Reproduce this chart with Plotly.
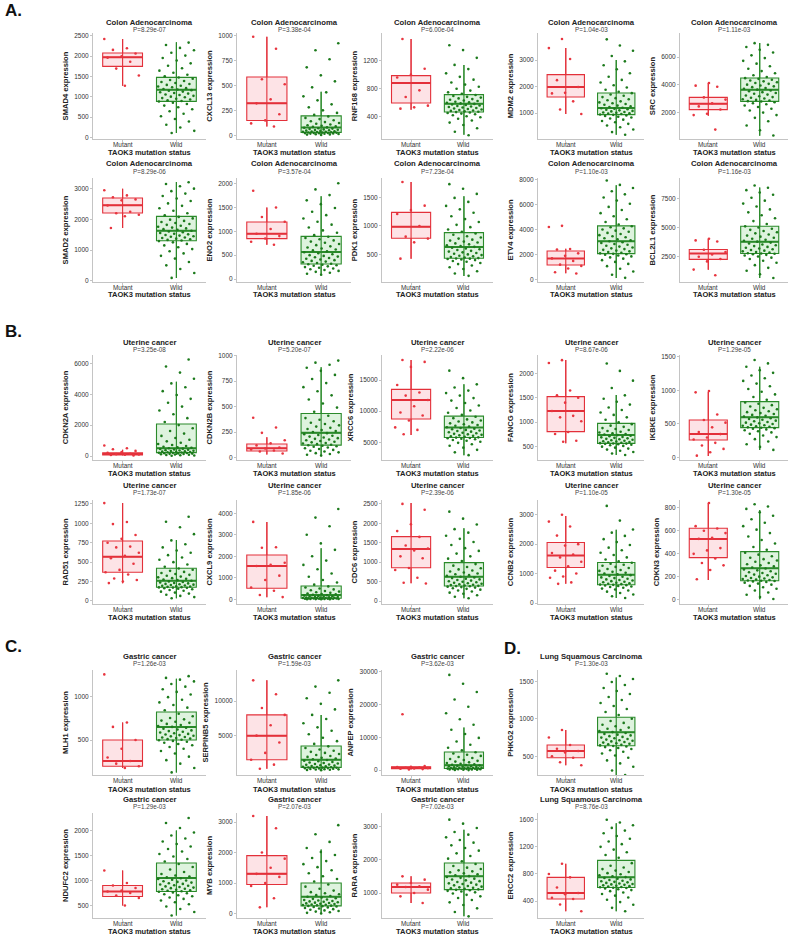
import plotly.graph_objects as go

W, H = 794, 937

# ---------------- data ----------------
GENES = ["SMAD4", "CXCL13", "RNF168", "MDM2", "SRC",
         "SMAD2", "ENO2", "PDK1", "ETV4", "BCL2L1",
         "CDKN2A", "CDKN2B", "XRCC6", "FANCG", "IKBKE",
         "RAD51", "CXCL9", "CDC6", "CCNB2", "CDKN3",
         "MLH1", "SERPINB5", "ANPEP",
         "NDUFC2", "MYB", "RARA",
         "PHKG2", "ERCC2"]

CANCERS = (["Colon Adenocarcinoma"] * 10 + ["Uterine cancer"] * 10 +
           ["Gastric cancer"] * 6 + ["Lung Squamous Carcinoma"] * 2)

PVALS = ["8.29e-07", "3.38e-04", "6.00e-04", "1.04e-03", "1.11e-03",
         "8.29e-06", "3.57e-04", "7.23e-04", "1.10e-03", "1.16e-03",
         "3.25e-08", "5.20e-07", "2.22e-06", "8.67e-06", "1.29e-05",
         "1.73e-07", "1.85e-06", "2.39e-06", "1.10e-05", "1.30e-05",
         "1.26e-03", "1.59e-03", "3.62e-03",
         "1.29e-03", "2.07e-03", "7.02e-03",
         "1.30e-03", "8.76e-03"]

GROUPS = ["Mutant", "Wild"]

YRANGES = [[-41, 2566], [-36, 1023], [87, 1593], [19, 4019], [72, 7735],
           [-43, 3348], [-63, 2119], [23, 1837], [-180, 8100], [337, 9240],
           [-259, 6540], [-23, 1005], [2170, 19010], [227, 2375], [-35, 1525],
           [-39, 1300], [-220, 4620], [-77, 2600], [-34, 3500], [-35, 867],
           [100, 1300], [-700, 14500], [-1500, 30500],
           [250, 2350], [-150, 3300], [250, 3400],
           [250, 1650], [150, 1700]]

YTICKS = [[0, 500, 1000, 1500, 2000, 2500], [0, 250, 500, 750, 1000], [400, 800, 1200],
          [1000, 2000, 3000], [2000, 4000, 6000],
          [0, 1000, 2000, 3000], [0, 500, 1000, 1500, 2000], [500, 1000, 1500],
          [0, 2000, 4000, 6000, 8000], [2500, 5000, 7500],
          [0, 2000, 4000, 6000], [0, 250, 500, 750, 1000], [5000, 10000, 15000],
          [500, 1000, 1500, 2000], [0, 500, 1000, 1500],
          [0, 250, 500, 750, 1000, 1250], [0, 1000, 2000, 3000, 4000],
          [0, 500, 1000, 1500, 2000, 2500], [0, 1000, 2000, 3000], [0, 200, 400, 600, 800],
          [500, 1000], [5000, 10000], [0, 10000, 20000, 30000],
          [500, 1000, 1500, 2000], [0, 1000, 2000, 3000], [1000, 2000, 3000],
          [500, 1000, 1500], [400, 800, 1200, 1600]]

# box statistics: [lower whisker, q1, median, q3, upper whisker]
MUT_BOX = [[1270, 1746, 1967, 2074, 2418], [89, 149, 320, 584, 985], [504, 598, 883, 987, 1508],
           [962, 1604, 1981, 2447, 3453], [1759, 2193, 2627, 3084, 4120],
           [1717, 2207, 2457, 2696, 3000], [720, 846, 951, 1196, 1500], [430, 785, 988, 1238, 1767],
           [520, 1169, 1688, 2286, 2468], [1376, 2275, 2781, 3118, 4045],
           [30, 70, 130, 210, 400], [30, 65, 91, 133, 200], [6176, 8743, 11791, 13503, 18208],
           [568, 807, 1230, 1523, 2273], [25, 262, 351, 559, 980],
           [228, 369, 570, 772, 1261], [93, 512, 1550, 2062, 3600], [456, 858, 1340, 1657, 2525],
           [654, 1207, 1614, 2054, 2959], [173, 367, 529, 622, 841],
           [180, 200, 260, 500, 700], [200, 1500, 5000, 8000, 13000], [200, 400, 700, 1000, 1200],
           [500, 680, 780, 900, 1200], [200, 950, 1300, 1900, 3200], [700, 1000, 1180, 1300, 1500],
           [380, 480, 570, 650, 850], [250, 430, 520, 750, 950]]

WILD_BOX = [[107, 885, 1172, 1475, 2336], [7, 30, 79, 195, 436], [149, 471, 589, 717, 1138],
            [182, 937, 1189, 1755, 3000], [313, 2795, 3639, 4482, 7012],
            [87, 1304, 1630, 2098, 3217], [91, 315, 566, 895, 1734], [127, 436, 634, 884, 1517],
            [130, 2078, 3065, 4286, 7532], [674, 2781, 3792, 5112, 8427],
            [65, 216, 496, 2071, 4811], [26, 123, 243, 432, 886], [2940, 5775, 7380, 9200, 14317],
            [329, 568, 739, 977, 1557], [114, 446, 599, 832, 1351],
            [35, 176, 261, 421, 785], [0, 46, 200, 619, 2372], [70, 387, 626, 987, 1874],
            [170, 620, 959, 1376, 2485], [6, 167, 275, 419, 780],
            [130, 500, 650, 820, 1200], [0, 400, 1500, 3500, 8000], [0, 500, 1500, 5500, 13000],
            [300, 780, 1050, 1350, 2000], [0, 250, 550, 1000, 2100], [300, 1100, 1500, 1900, 2900],
            [250, 640, 820, 1020, 1550], [250, 600, 750, 1000, 1550]]

MUT_POINTS = [
    [2420, 2190, 2150, 2060, 1990, 1960, 1860, 1690, 1520, 1270],
    [985, 865, 561, 511, 360, 320, 211, 150, 120, 89],
    [1508, 1086, 1001, 960, 778, 683, 561, 537, 518],
    [3790, 3450, 3040, 2240, 1980, 1760, 1740, 1440, 1130, 960],
    [4120, 3930, 3850, 3080, 2920, 2650, 2430, 2200, 1900, 1800, 750],
    [2950, 2780, 2720, 2650, 2620, 2450, 2250, 2200, 2150, 2100, 1720],
    [1850, 1500, 1300, 1200, 1050, 950, 900, 850, 780, 720],
    [1767, 1355, 1280, 1209, 1000, 814, 780, 715, 430],
    [4290, 4200, 2450, 2400, 2100, 1900, 1700, 1500, 1200, 1100, 900, 600, 500],
    [4045, 3900, 3800, 3100, 2900, 2700, 2500, 2300, 2100, 1400, 920],
    [680, 500, 440, 330, 250, 200, 150, 120, 100, 80, 60, 40],
    [390, 295, 243, 170, 140, 120, 100, 90, 80, 70, 60, 40],
    [18200, 17900, 17100, 14200, 13000, 12500, 11800, 10800, 9800, 9300, 8500, 7400, 7000, 6300],
    [2270, 2210, 1650, 1550, 1500, 1400, 1230, 1130, 1100, 1020, 800, 760, 620, 600],
    [990, 970, 640, 560, 520, 450, 380, 350, 300, 270, 220, 180, 130, 80, 30],
    [1260, 1016, 990, 850, 800, 750, 700, 690, 620, 580, 550, 480, 400, 370, 340, 290, 270, 250, 230],
    [3600, 2420, 2400, 1700, 1600, 1550, 1100, 900, 550, 400, 200, 100],
    [2500, 2350, 1977, 1800, 1650, 1430, 1350, 1300, 1150, 1100, 850, 800, 600, 470, 450],
    [3000, 2766, 2600, 2291, 2000, 1950, 1700, 1650, 1550, 1400, 1250, 1100, 1000, 900, 860, 700, 650],
    [841, 640, 620, 600, 580, 540, 530, 450, 430, 400, 360, 320, 300, 260, 180],
    [1250, 700, 650, 500, 400, 300, 260, 230, 200, 180],
    [13000, 11000, 9000, 8000, 6500, 5000, 4000, 2500, 1500, 800, 200],
    [17000, 1200, 1000, 900, 800, 700, 600, 500, 400, 300, 200],
    [1200, 950, 900, 850, 800, 780, 750, 700, 650, 500],
    [3200, 2800, 2000, 1800, 1500, 1300, 1200, 1000, 900, 500, 200],
    [1500, 1400, 1300, 1250, 1200, 1180, 1100, 1000, 900, 700],
    [850, 750, 650, 600, 570, 550, 500, 480, 420, 380],
    [950, 800, 750, 600, 520, 500, 450, 430, 350, 250],
]

WILD_POINTS = [
    [107, 160, 240, 310, 390, 450, 520, 580, 640, 690, 740, 780, 820, 850, 880,
     895, 910, 930, 950, 965, 985, 1000, 1020, 1040, 1055, 1075, 1090, 1110, 1125, 1145,
     1160, 1175, 1190, 1210, 1230, 1250, 1270, 1290, 1310, 1335, 1360, 1385, 1410, 1440, 1470,
     1500, 1540, 1590, 1640, 1700, 1760, 1820, 1890, 1950, 2010, 2080, 2140, 2200, 2270, 2330],
    [5, 8, 10, 12, 14, 16, 18, 20, 22, 23, 24, 25, 26, 28, 29,
     31, 33, 35, 37, 39, 42, 45, 48, 51, 54, 57, 60, 64, 68, 72,
     76, 80, 85, 90, 96, 102, 109, 116, 124, 133, 142, 152, 163, 175, 190,
     205, 225, 250, 280, 310, 350, 390, 430, 480, 540, 600, 680, 760, 850, 920],
    [140, 190, 240, 285, 320, 350, 375, 395, 410, 425, 438, 448, 456, 463, 469,
     474, 480, 486, 492, 499, 506, 513, 520, 527, 534, 541, 548, 555, 562, 570,
     578, 586, 593, 601, 609, 617, 626, 635, 644, 654, 664, 675, 686, 698, 712,
     730, 750, 775, 800, 830, 860, 890, 930, 970, 1020, 1080, 1140, 1240, 1350, 1420],
    [180, 280, 380, 460, 530, 590, 650, 700, 750, 790, 830, 860, 890, 910, 930,
     945, 960, 975, 990, 1005, 1020, 1040, 1060, 1080, 1100, 1120, 1140, 1160, 1180, 1200,
     1225, 1250, 1280, 1310, 1340, 1370, 1400, 1440, 1480, 1520, 1560, 1600, 1650, 1700, 1750,
     1800, 1880, 1960, 2050, 2150, 2250, 2370, 2500, 2650, 2800, 2950, 3150, 3350, 3550, 3780],
    [320, 700, 1050, 1350, 1600, 1800, 1980, 2130, 2260, 2380, 2490, 2580, 2660, 2730, 2780,
     2810, 2850, 2900, 2950, 3000, 3050, 3100, 3160, 3220, 3280, 3340, 3400, 3460, 3520, 3580,
     3640, 3700, 3760, 3820, 3880, 3940, 4000, 4060, 4120, 4180, 4240, 4300, 4360, 4420, 4470,
     4550, 4680, 4820, 4980, 5150, 5330, 5520, 5720, 5920, 6120, 6320, 6520, 6720, 6880, 7000],
    [90, 250, 380, 500, 610, 720, 810, 890, 960, 1030, 1090, 1150, 1200, 1250, 1290,
     1310, 1330, 1350, 1370, 1390, 1410, 1430, 1450, 1470, 1490, 1510, 1530, 1555, 1580, 1605,
     1630, 1655, 1680, 1705, 1730, 1760, 1790, 1820, 1850, 1880, 1915, 1950, 1990, 2030, 2080,
     2130, 2200, 2280, 2360, 2440, 2520, 2600, 2680, 2760, 2840, 2920, 3000, 3080, 3150, 3210],
    [90, 110, 130, 150, 170, 190, 205, 220, 235, 250, 265, 278, 290, 300, 310,
     320, 335, 350, 365, 380, 395, 410, 425, 440, 455, 470, 485, 500, 520, 540,
     560, 580, 600, 620, 640, 660, 685, 710, 735, 760, 785, 810, 835, 860, 885,
     920, 970, 1020, 1080, 1140, 1200, 1270, 1340, 1410, 1490, 1570, 1650, 1760, 1880, 2010],
    [130, 170, 210, 250, 280, 310, 335, 355, 375, 390, 405, 415, 423, 430, 434,
     440, 450, 460, 470, 480, 492, 504, 516, 528, 540, 553, 566, 580, 594, 608,
     622, 636, 650, 665, 680, 696, 712, 728, 745, 762, 780, 800, 822, 846, 870,
     900, 940, 980, 1020, 1070, 1120, 1170, 1230, 1290, 1350, 1420, 1490, 1560, 1650, 1730],
    [150, 400, 650, 880, 1080, 1260, 1420, 1560, 1680, 1780, 1860, 1930, 1990, 2030, 2060,
     2100, 2150, 2200, 2260, 2320, 2380, 2440, 2500, 2570, 2640, 2710, 2780, 2850, 2920, 2990,
     3060, 3140, 3220, 3300, 3380, 3460, 3550, 3640, 3730, 3820, 3910, 4000, 4090, 4180, 4260,
     4400, 4600, 4820, 5050, 5300, 5550, 5800, 6050, 6300, 6550, 6800, 7050, 7300, 7550, 7900],
    [680, 1000, 1300, 1550, 1780, 1980, 2150, 2300, 2420, 2520, 2600, 2660, 2710, 2750, 2775,
     2800, 2850, 2900, 2960, 3020, 3080, 3140, 3200, 3270, 3340, 3410, 3480, 3550, 3630, 3710,
     3790, 3870, 3950, 4040, 4130, 4220, 4310, 4400, 4500, 4600, 4700, 4800, 4900, 5000, 5100,
     5300, 5550, 5800, 6050, 6300, 6550, 6800, 7050, 7300, 7550, 7800, 8000, 8200, 8400, 8600],
    [20, 35, 50, 65, 80, 95, 110, 125, 140, 155, 168, 180, 192, 203, 213,
     225, 240, 255, 270, 285, 300, 320, 340, 360, 380, 400, 425, 450, 475, 500,
     530, 560, 600, 650, 710, 780, 860, 950, 1050, 1170, 1300, 1450, 1620, 1800, 2000,
     2200, 2450, 2700, 2950, 3200, 3450, 3700, 3950, 4200, 4450, 4700, 5000, 5400, 5800, 6250],
    [20, 28, 36, 44, 52, 60, 68, 76, 84, 92, 99, 106, 112, 117, 121,
     126, 132, 138, 144, 150, 156, 163, 170, 177, 184, 191, 198, 206, 214, 222,
     230, 240, 250, 260, 270, 281, 292, 304, 316, 329, 342, 356, 371, 387, 410,
     450, 490, 530, 570, 610, 650, 690, 730, 770, 810, 850, 880, 910, 930, 950],
    [2950, 3400, 3800, 4150, 4450, 4700, 4920, 5100, 5250, 5380, 5490, 5580, 5650, 5710, 5760,
     5800, 5880, 5960, 6040, 6120, 6200, 6280, 6360, 6450, 6540, 6630, 6720, 6810, 6900, 7000,
     7100, 7200, 7300, 7420, 7540, 7660, 7780, 7900, 8050, 8200, 8350, 8500, 8680, 8880, 9100,
     9400, 9750, 10100, 10500, 10900, 11300, 11700, 12100, 12500, 12900, 13300, 13800, 14300, 15300, 16500],
    [330, 360, 390, 415, 440, 460, 480, 500, 515, 528, 540, 550, 557, 562, 566,
     572, 580, 588, 596, 604, 612, 620, 630, 640, 650, 660, 670, 680, 690, 700,
     712, 724, 736, 748, 760, 775, 790, 805, 820, 840, 860, 880, 905, 930, 960,
     1000, 1050, 1100, 1150, 1200, 1250, 1300, 1360, 1420, 1480, 1550, 1700, 1850, 2050, 2200],
    [115, 160, 200, 240, 275, 305, 330, 355, 375, 393, 408, 420, 430, 438, 444,
     450, 458, 466, 474, 482, 490, 500, 510, 520, 530, 540, 550, 562, 574, 586,
     598, 610, 622, 635, 648, 662, 676, 690, 705, 720, 740, 760, 780, 800, 820,
     860, 900, 940, 980, 1020, 1060, 1100, 1140, 1180, 1220, 1260, 1300, 1350, 1400, 1450],
    [35, 50, 65, 80, 95, 108, 120, 131, 141, 150, 158, 164, 169, 172, 175,
     178, 182, 186, 190, 195, 200, 205, 210, 215, 220, 226, 232, 238, 245, 252,
     260, 268, 276, 285, 294, 304, 314, 325, 336, 348, 360, 374, 388, 402, 418,
     440, 470, 500, 530, 560, 590, 620, 650, 690, 730, 780, 860, 950, 1020, 1085],
    [0, 3, 6, 9, 12, 15, 18, 21, 24, 27, 30, 33, 37, 41, 44,
     48, 52, 56, 60, 65, 70, 76, 82, 90, 98, 107, 117, 128, 140, 155,
     170, 188, 206, 226, 248, 272, 298, 326, 356, 388, 422, 460, 500, 545, 600,
     680, 780, 900, 1050, 1200, 1400, 1600, 1800, 2000, 2300, 2600, 3000, 3400, 3800, 4200],
    [70, 110, 150, 185, 215, 245, 270, 293, 313, 330, 345, 358, 369, 378, 384,
     390, 400, 410, 420, 432, 444, 456, 468, 482, 496, 510, 525, 540, 556, 572,
     590, 608, 626, 646, 666, 688, 710, 734, 760, 786, 814, 844, 876, 910, 950,
     1030, 1090, 1150, 1220, 1290, 1360, 1440, 1520, 1600, 1680, 1760, 1850, 1970, 2120, 2300],
    [170, 230, 290, 340, 385, 425, 460, 490, 518, 542, 563, 580, 595, 607, 616,
     625, 640, 655, 670, 688, 706, 724, 742, 762, 782, 802, 824, 846, 870, 894,
     920, 946, 972, 1000, 1028, 1058, 1090, 1122, 1156, 1190, 1226, 1264, 1300, 1336, 1370,
     1420, 1480, 1550, 1630, 1710, 1790, 1880, 1970, 2070, 2170, 2280, 2390, 2500, 2800, 3300],
    [8, 25, 45, 65, 82, 97, 110, 122, 133, 142, 150, 156, 161, 164, 166,
     169, 173, 177, 181, 186, 191, 196, 202, 208, 214, 220, 227, 234, 241, 249,
     257, 265, 273, 282, 291, 300, 310, 320, 331, 342, 354, 366, 379, 393, 410,
     435, 460, 490, 520, 550, 580, 610, 640, 670, 700, 730, 760, 790, 810, 830],
    [130, 180, 230, 270, 310, 345, 375, 400, 420, 440, 455, 468, 480, 490, 497,
     503, 510, 516, 522, 528, 535, 542, 549, 556, 563, 570, 578, 586, 594, 602,
     610, 620, 630, 640, 650, 660, 672, 684, 696, 708, 722, 736, 752, 772, 800,
     840, 870, 900, 930, 960, 990, 1020, 1050, 1080, 1110, 1140, 1170, 1190, 1210, 1230],
    [0, 30, 60, 90, 120, 150, 180, 210, 240, 270, 300, 325, 350, 370, 390,
     420, 460, 500, 550, 600, 650, 710, 770, 830, 900, 970, 1040, 1120, 1200, 1290,
     1380, 1480, 1580, 1690, 1800, 1920, 2050, 2200, 2350, 2500, 2650, 2820, 3000, 3200, 3450,
     3800, 4200, 4700, 5200, 5700, 6200, 6800, 7400, 8000, 8800, 9600, 10400, 11200, 12100, 13000],
    [0, 40, 80, 120, 160, 200, 240, 280, 320, 360, 395, 425, 450, 470, 490,
     520, 560, 600, 640, 690, 740, 800, 860, 930, 1000, 1080, 1170, 1270, 1380, 1500,
     1630, 1780, 1950, 2150, 2350, 2580, 2820, 3080, 3360, 3660, 3980, 4320, 4680, 5060, 5450,
     6000, 6800, 7700, 8700, 9800, 11000, 12300, 13800, 15500, 17300, 19300, 21500, 23800, 26300, 29000],
    [300, 370, 430, 480, 525, 565, 600, 632, 660, 685, 705, 725, 745, 762, 775,
     785, 795, 805, 815, 825, 836, 847, 858, 870, 882, 894, 906, 919, 932, 945,
     958, 972, 986, 1000, 1015, 1030, 1046, 1062, 1080, 1100, 1130, 1170, 1220, 1270, 1330,
     1380, 1430, 1480, 1530, 1580, 1630, 1680, 1730, 1780, 1840, 1900, 1960, 2050, 2150, 2250],
    [0, 20, 40, 60, 80, 100, 120, 140, 160, 180, 198, 214, 228, 240, 248,
     255, 265, 275, 285, 296, 307, 318, 330, 342, 355, 368, 382, 396, 411, 426,
     442, 460, 480, 500, 522, 546, 572, 600, 630, 662, 700, 750, 810, 880, 950,
     1050, 1130, 1220, 1320, 1420, 1520, 1620, 1720, 1820, 1920, 2020, 2150, 2350, 2600, 2900],
    [300, 430, 540, 640, 720, 790, 850, 900, 945, 985, 1020, 1045, 1065, 1082, 1095,
     1110, 1125, 1140, 1155, 1170, 1190, 1210, 1230, 1250, 1270, 1290, 1310, 1330, 1355, 1380,
     1405, 1430, 1455, 1480, 1505, 1530, 1560, 1590, 1620, 1650, 1680, 1720, 1760, 1810, 1870,
     1950, 2030, 2110, 2190, 2270, 2350, 2430, 2510, 2590, 2670, 2750, 2830, 2950, 3080, 3200],
    [250, 310, 360, 405, 445, 480, 510, 537, 560, 580, 597, 611, 622, 631, 637,
     645, 652, 659, 666, 674, 682, 690, 698, 706, 714, 722, 731, 740, 749, 758,
     768, 778, 788, 798, 810, 822, 836, 850, 866, 882, 900, 920, 945, 970, 1000,
     1050, 1090, 1130, 1170, 1210, 1250, 1290, 1330, 1370, 1410, 1450, 1490, 1530, 1570, 1600],
    [250, 300, 345, 385, 420, 452, 480, 505, 527, 546, 562, 575, 585, 592, 597,
     603, 608, 614, 620, 626, 632, 639, 646, 653, 660, 668, 676, 684, 692, 700,
     710, 720, 730, 742, 754, 766, 780, 796, 812, 830, 850, 872, 896, 922, 960,
     1040, 1080, 1120, 1160, 1200, 1240, 1280, 1320, 1360, 1400, 1440, 1480, 1520, 1560, 1600],
]

SECTIONS = ["A.", "B.", "C.", "D."]
XLABEL = "TAOK3 mutation status"

# ---------------- layout (pixel geometry, style) ----------------
COLS = [(93, 206), (237, 351), (382, 493), (538, 644), (680, 788)]
# rows: title y, p-value y, plot top, plot bottom, x-label y
ROWS = [(22, 29.5, 33, 139, 153),
        (164, 171.5, 178, 282, 295),
        (342, 349.5, 355, 460, 473),
        (485, 492.5, 500, 604, 617),
        (656, 663.5, 670, 775, 789),
        (799, 806.5, 813, 918, 931)]
PANEL_GRID = ([(0, c) for c in range(5)] + [(1, c) for c in range(5)] +
              [(2, c) for c in range(5)] + [(3, c) for c in range(5)] +
              [(4, c) for c in range(3)] + [(5, c) for c in range(3)] +
              [(4, 3), (5, 3)])
SECTION_POS = [(3, 10), (3, 331), (3, 646), (502, 648)]

FONT = "Liberation Sans, Arial, Helvetica, sans-serif"
RED = "#e3303a"
RED_FILL = "rgba(240,70,85,0.15)"
GREEN = "#2a8a2a"
GREEN_FILL = "rgba(70,190,70,0.18)"
RED_PT = "#e8353f"
GREEN_PT = "#1c7a1c"
AXIS_COL = "#c4c4c4"
BOX_W = 0.74
JIT = 0.34
GOLD = 0.6180339887


def px_x(p):
    return p / W


def px_y(p):
    return 1 - p / H


fig = go.Figure()
layout = dict(width=W, height=H, margin=dict(l=0, r=0, t=0, b=0), autosize=False,
              paper_bgcolor="white", plot_bgcolor="white", showlegend=False,
              font=dict(family=FONT, color="#222"))
annotations = []

for i, gene in enumerate(GENES):
    n = i + 1
    xa = "x" if n == 1 else f"x{n}"
    ya = "y" if n == 1 else f"y{n}"
    r, c = PANEL_GRID[i]
    left, right = COLS[c]
    ty, py, top, bot, xl = ROWS[r]

    groups = [(0, MUT_BOX[i], MUT_POINTS[i], RED, RED_FILL, RED_PT),
              (1, WILD_BOX[i], WILD_POINTS[i], GREEN, GREEN_FILL, GREEN_PT)]
    for pos, bx, pts, col, fill, ptcol in groups:
        lo, q1, med, q3, hi = bx
        fig.add_trace(go.Scatter(x=[pos, pos], y=[lo, hi], mode="lines",
                                 line=dict(color=col, width=1.1), xaxis=xa, yaxis=ya,
                                 hoverinfo="skip"))
        fig.add_trace(go.Box(x=[pos], lowerfence=[lo], q1=[q1], median=[med], q3=[q3],
                             upperfence=[hi], width=BOX_W, fillcolor=fill,
                             line=dict(color=col, width=1.1), whiskerwidth=0,
                             boxpoints=False, xaxis=xa, yaxis=ya, hoverinfo="skip"))
        fig.add_trace(go.Scatter(x=[pos - BOX_W / 2, pos + BOX_W / 2], y=[med, med], mode="lines",
                                 line=dict(color=col, width=2), xaxis=xa, yaxis=ya,
                                 hoverinfo="skip"))
        jx = [pos + (((k * GOLD + 0.37 * pos + 0.13 * c) % 1.0) - 0.5) * 2 * JIT
              for k in range(len(pts))]
        fig.add_trace(go.Scatter(x=jx, y=pts, mode="markers",
                                 marker=dict(color=ptcol, size=2.6, line=dict(width=0)),
                                 xaxis=xa, yaxis=ya, hoverinfo="skip"))

    axis_common = dict(showline=True, linecolor=AXIS_COL, linewidth=1, ticks="outside",
                       ticklen=2, tickcolor=AXIS_COL, tickwidth=1, showgrid=False,
                       zeroline=False, fixedrange=True, automargin=False,
                       tickfont=dict(size=6.5, color="#333", family=FONT))
    layout["xaxis" if n == 1 else f"xaxis{n}"] = dict(
        domain=[px_x(left), px_x(right)], anchor=ya, range=[-0.55, 1.55],
        tickvals=[0, 1], showticklabels=False, **axis_common)
    layout["yaxis" if n == 1 else f"yaxis{n}"] = dict(
        domain=[px_y(bot), px_y(top)], anchor=xa, range=YRANGES[i],
        tickvals=YTICKS[i], ticktext=[str(v) for v in YTICKS[i]],
        title=dict(text=f"<b>{gene} expression</b>", standoff=4,
                   font=dict(size=7.6, color="#222", family=FONT)),
        **axis_common)

    for pos, g in enumerate(GROUPS):
        annotations.append(dict(x=pos, y=px_y(bot + 5.5), xref=xa, yref="paper",
                                text=g, showarrow=False,
                                font=dict(size=6.4, color="#333", family=FONT),
                                xanchor="center", yanchor="middle"))

    cx = (left + right) / 2
    annotations.append(dict(x=px_x(cx), y=px_y(ty), xref="paper", yref="paper",
                            text=f"<b>{CANCERS[i]}</b>", showarrow=False,
                            font=dict(size=7.7, color="#222", family=FONT),
                            xanchor="center", yanchor="middle"))
    annotations.append(dict(x=px_x(cx), y=px_y(py), xref="paper", yref="paper",
                            text=f"P={PVALS[i]}", showarrow=False,
                            font=dict(size=6.3, color="#444", family=FONT),
                            xanchor="center", yanchor="middle"))
    annotations.append(dict(x=px_x(cx), y=px_y(xl), xref="paper", yref="paper",
                            text=f"<b>{XLABEL}</b>", showarrow=False,
                            font=dict(size=7.5, color="#222", family=FONT),
                            xanchor="center", yanchor="middle"))

for lab, (sx, sy) in zip(SECTIONS, SECTION_POS):
    annotations.append(dict(x=px_x(sx), y=px_y(sy), xref="paper", yref="paper",
                            text=f"<b>{lab}</b>", showarrow=False,
                            font=dict(size=17, color="#111", family=FONT),
                            xanchor="left", yanchor="middle"))

layout["annotations"] = annotations
fig.update_layout(**layout)
fig.write_html("out.html", config={"displayModeBar": False},
               post_script="document.body.style.margin='0';document.body.style.padding='0';")
